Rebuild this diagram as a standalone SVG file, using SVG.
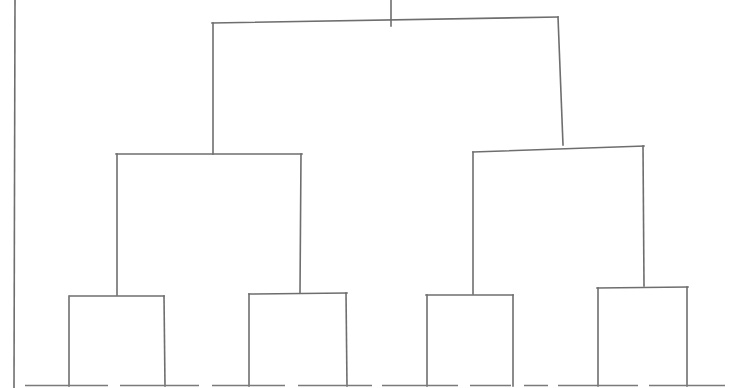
<svg xmlns="http://www.w3.org/2000/svg" width="753" height="388" viewBox="0 0 753 388">
<style>
.l{fill:none;stroke:#6e6e6e;stroke-width:1.6;stroke-linecap:square}
.b{fill:none;stroke:#7a7a7a;stroke-width:1.5}
</style>
<rect width="753" height="388" fill="#fff"/>
<g id="axis"><path class="l" d="M15,0 L14,388"/></g>
<g id="connectors">
<path class="l" d="M391,0 L391,26"/>
<path class="l" d="M212,23 L558,17"/>
<path class="l" d="M213,23 L213,154"/>
<path class="l" d="M558,17 L563,145"/>
<path class="l" d="M116,154 L302,154"/>
<path class="l" d="M117,154 L117,295"/>
<path class="l" d="M301,154 L300,293"/>
<path class="l" d="M473,152 L644,146"/>
<path class="l" d="M473,152 L473,294"/>
<path class="l" d="M643,146 L644,286"/>
<path class="l" d="M70,296 L164,296"/>
<path class="l" d="M69,296 L69,386"/>
<path class="l" d="M164,296 L165,386"/>
<path class="l" d="M249,294 L347,293"/>
<path class="l" d="M249,294 L249,386"/>
<path class="l" d="M346,293 L347,386"/>
<path class="l" d="M426,295 L513,295"/>
<path class="l" d="M427,295 L427,386"/>
<path class="l" d="M513,295 L513,386"/>
<path class="l" d="M597,288 L688,287"/>
<path class="l" d="M598,288 L598,386"/>
<path class="l" d="M687,287 L687,386"/>
</g>
<g id="leaves">
<path class="b" d="M25,385.5 L108,385.5 M120,385.5 L199,385.5 M212,385.5 L285,385.5 M298,385.5 L372,385.5 M382,385.5 L458,385.5 M470,385.5 L511,385.5 M524,385.5 L548,385.5 M558,385.5 L638,385.5 M649,385.5 L725,385.5"/>
</g>
</svg>
